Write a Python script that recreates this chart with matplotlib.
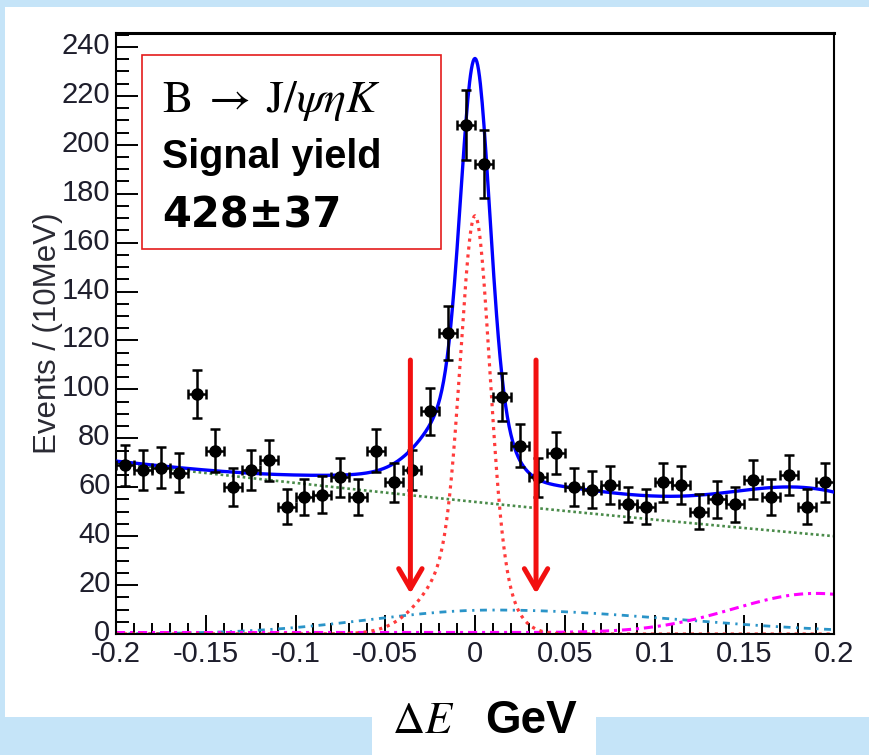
import numpy as np
import matplotlib
matplotlib.use("Agg")
import matplotlib.pyplot as plt
from matplotlib.patches import Rectangle
from matplotlib.ticker import MultipleLocator
from matplotlib.transforms import ScaledTranslation

plt.rcParams["mathtext.fontset"] = "stix"

# ---------------------------------------------------------------- data
# Delta E histogram: 40 bins of 10 MeV between -0.2 and 0.2 GeV
bin_edges = np.linspace(-0.2, 0.2, 41)
counts = [69, 67, 68, 66, 98, 75, 60, 67, 71, 52,
          56, 57, 64, 56, 75, 62, 67, 91, 123, 208,
          192, 97, 77, 64, 74, 60, 59, 61, 53, 52,
          62, 61, 50, 55, 53, 63, 56, 65, 52, 62]

# fit components (amplitude, mean, widths)
comb_poly = [54.0, -75.0, 25.0]                # combinatorial: c0 + c1*x + c2*x^2
sig_core = [133.0, 0.0, 0.0078]                # signal core gaussian
sig_tail = [38.0, 0.0, 0.022, 0.014]           # signal tail (bifurcated gaussian)
peak_bkg = [9.8, 0.010, 0.068, 0.103]          # peaking background (bifurcated)
feed_bkg = [16.0, 0.19, 0.046, 0.6]            # feed-across background + floor

# signal window marked by the arrows
window_edges = [-0.036, 0.034]
arrow_top, arrow_tip = 112.0, 16.5

xtick_vals = [-0.2, -0.15, -0.1, -0.05, 0.0, 0.05, 0.1, 0.15, 0.2]
xtick_labels = ["-0.2", "-0.15", "-0.1", "-0.05", "0", "0.05", "0.1", "0.15", "0.2"]
ytick_vals = list(range(0, 241, 20))
ytick_labels = [str(v) for v in ytick_vals]


# ---------------------------------------------------------------- models
def gauss(x, a, m, s):
    return a * np.exp(-0.5 * ((x - m) / s) ** 2)


def bifur(x, a, m, sl, sr):
    s = np.where(x < m, sl, sr)
    return a * np.exp(-0.5 * ((x - m) / s) ** 2)


xs = np.linspace(-0.2, 0.2, 801)
comb = comb_poly[0] + comb_poly[1] * xs + comb_poly[2] * xs ** 2
signal = gauss(xs, *sig_core) + bifur(xs, *sig_tail)
peaking = bifur(xs, *peak_bkg)
feed = gauss(xs, *feed_bkg[:3]) + feed_bkg[3]
total = comb + signal + peaking + feed

centers = 0.5 * (bin_edges[:-1] + bin_edges[1:])
half_w = 0.5 * np.diff(bin_edges)
yerr = np.sqrt(counts)

# ---------------------------------------------------------------- figure
W, H = 869, 755
fig = plt.figure(figsize=(W / 100, H / 100), dpi=100, facecolor="#c5e4f8")


def fx(px):
    return px / W


def fy(py):
    return 1 - py / H


fig.add_artist(Rectangle((fx(5), fy(717)), fx(864), 710 / H,
                         transform=fig.transFigure, facecolor="white",
                         edgecolor="none", zorder=-2))
fig.add_artist(Rectangle((fx(372), 0), fx(224), 38 / H,
                         transform=fig.transFigure, facecolor="white",
                         edgecolor="none", zorder=-2))

ax = fig.add_axes([fx(116), fy(634), fx(718), 601 / H])
ax.set_facecolor("white")

ax.plot(xs, comb, color="#1d6e1d", lw=1.9, ls=(0, (1, 1.1)), alpha=0.8, zorder=2)
ax.plot(xs, peaking, color="#2a94c8", lw=2.0, ls=(0, (2.5, 2, 0.8, 2)), zorder=2)
ax.plot(xs, feed, color="#ff00ff", lw=2.2, ls=(0, (3, 1.6, 1, 1.6)), zorder=2)
ax.plot(xs, signal, color="#ff3b3b", lw=2.3, ls=(0, (1, 1.5)), zorder=2)
ax.plot(xs, total, color="#0000ff", lw=2.4, zorder=3)

ax.errorbar(centers, counts, xerr=half_w, yerr=yerr, fmt="o", color="black",
            ms=8, elinewidth=1.8, capsize=3.4, capthick=1.8, zorder=4)

for xw in window_edges:
    ax.annotate("", xy=(xw, arrow_tip), xytext=(xw, arrow_top),
                arrowprops=dict(arrowstyle="->,head_length=0.72,head_width=0.42",
                                color="#f21010", lw=3.6, mutation_scale=20,
                                shrinkA=0, shrinkB=0),
                zorder=6)

ax.set_xlim(-0.2, 0.2)
ax.set_ylim(0, 245.7)
ax.set_xticks(xtick_vals)
ax.set_xticklabels(xtick_labels)
ax.set_yticks(ytick_vals)
ax.set_yticklabels(ytick_labels)
ax.xaxis.set_minor_locator(MultipleLocator(0.01))
ax.yaxis.set_minor_locator(MultipleLocator(5))

for lab in ax.get_xticklabels() + ax.get_yticklabels():
    lab.set_fontfamily("Liberation Sans")
    lab.set_fontsize(21)
    lab.set_color("#1e1e2c")

ax.tick_params(which="both", direction="in", top=False, right=False,
               width=1.4, color="black")
ax.tick_params(axis="y", which="major", length=15.5, pad=4)
ax.tick_params(axis="y", which="minor", length=9)
ax.tick_params(axis="x", which="major", length=13.5, pad=4.5)
ax.tick_params(axis="x", which="minor", length=8)

# y labels sit a touch above their ticks
lift = ScaledTranslation(0, 4 / 100, fig.dpi_scale_trans)
for lab in ax.get_yticklabels():
    lab.set_transform(lab.get_transform() + lift)

for side, sp in ax.spines.items():
    sp.set_linewidth(1.5)
    sp.set_color("black")
ax.spines["top"].set_linewidth(2.2)

ax.set_ylabel("Events / (10MeV)", family="Liberation Sans", size=22.5,
              color="#2a2a33")
ax.yaxis.set_label_coords((63 - 116) / 718, 0.5)

# annotation box with the decay mode and fitted yield
fig.add_artist(Rectangle((fx(142), fy(249)), fx(299), 194 / H,
                         transform=fig.transFigure, facecolor="white",
                         edgecolor="#e41b1b", lw=1.2, zorder=5))
fig.text(fx(162), fy(112), r"$\mathrm{B}\;\rightarrow\;\mathrm{J}/\psi\eta K$",
         size=33, ha="left", va="baseline", zorder=6)
fig.text(fx(162), fy(168), "Signal yield", family="Liberation Sans",
         weight="bold", size=28.5, ha="left", va="baseline", zorder=6)
fig.text(fx(162), fy(227), "428\u00b137", family="DejaVu Sans",
         weight="bold", size=30, ha="left", va="baseline", zorder=6)

# axis title below the plot
fig.text(fx(392), fy(733), r"$\Delta E$", size=32, ha="left",
         va="baseline", zorder=6)
fig.text(fx(485), fy(733), "GeV", family="Liberation Sans", weight="bold",
         size=33, ha="left", va="baseline", zorder=6)

fig.savefig("out.png", dpi=100, facecolor=fig.get_facecolor())
